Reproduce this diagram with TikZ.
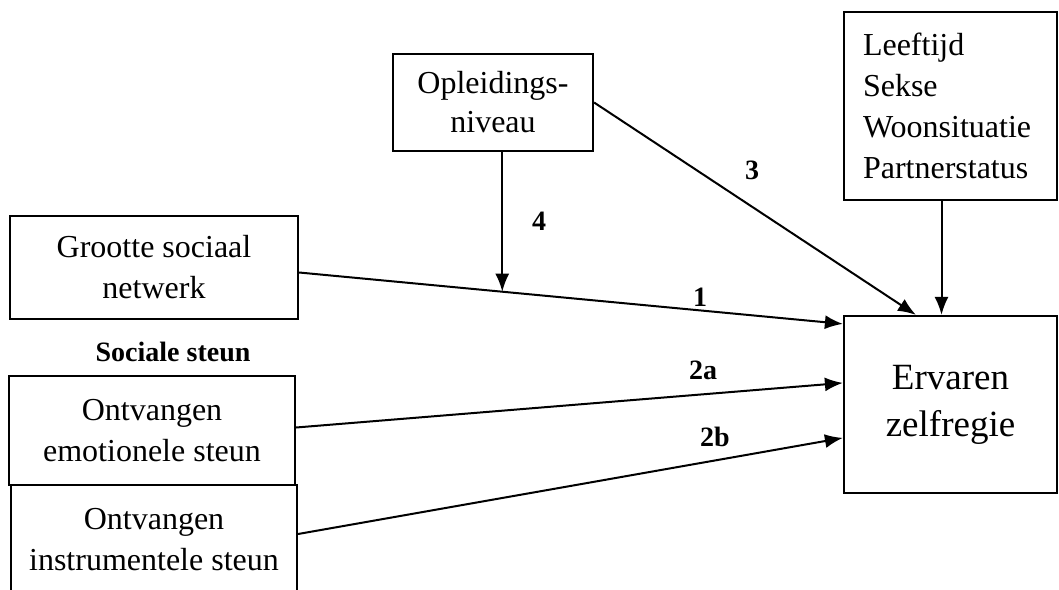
\documentclass[tikz,border=0pt]{standalone}
\usepackage{fontspec}
\setmainfont{Liberation Serif}
\usetikzlibrary{arrows.meta,positioning,calc}

\begin{document}
\begin{tikzpicture}[x=0.5pt, y=-0.5pt, >={Latex[length=9pt,width=7pt]}]
\tikzset{
block/.style    = {draw, line width=1.1pt, shape=rectangle, fill=white, inner sep=0pt, align=center, font=\fontsize{16}{20.5}\selectfont},
lbl/.style      = {font=\bfseries\fontsize{14}{16}\selectfont},
pad/.style      = {->, line width=1pt},
}
    \useasboundingbox (0,0) rectangle (1059,589);

    % Main nodes
    \node [block, minimum width=100pt, minimum height=48.5pt, font=\fontsize{16}{19.5}\selectfont] (opleiding) at (493,102.5) {Opleidings-\\niveau};
    \node [block, align=left, text width=87.5pt, inner xsep=9.5pt, minimum height=94pt] (covariaten) at (950.5,106) {Leeftijd\\Sekse\\Woonsituatie\\Partnerstatus};
    \node [block, minimum width=144pt, minimum height=51.5pt] (netwerk) at (154,267.5) {Grootte sociaal\\netwerk};
    \node [lbl] (steun) at (173,352) {Sociale steun};
    \node [block, minimum width=143pt, minimum height=54.5pt] (emotioneel) at (152,430.5) {Ontvangen\\emotionele steun};
    \node [block, minimum width=143pt, minimum height=55pt] (instrumenteel) at (154,540) {Ontvangen\\instrumentele steun};
    \node [block, minimum width=106.5pt, minimum height=88.5pt, font=\fontsize{18.5}{23.5}\selectfont] (zelfregie) at (950.5,404.5) {Ervaren\\zelfregie};

    % Main edges
    \coordinate (in1) at ([yshift=-4.5pt]zelfregie.north west);
    \draw [pad] ([yshift=-2.5pt]netwerk.east) -- (in1) coordinate[pos=0.3736] (mod);
    \draw [pad] ([yshift=1.5pt]emotioneel.east) -- ([yshift=-34pt]zelfregie.north west);
    \draw [pad] ([yshift=3pt]instrumenteel.east) -- ([yshift=-61.5pt]zelfregie.north west);
    \draw [pad] (opleiding.east) -- ([xshift=36.5pt]zelfregie.north west);
    \draw [pad] ([xshift=-4.5pt]covariaten.south) -- ([xshift=-4.5pt]covariaten.south |- zelfregie.north);
    \draw [pad] (opleiding.south -| mod) -- (mod);

    % Labels
    \node [lbl] (p1)  at (700,297) {1};
    \node [lbl] (p2a) at (703,370) {2a};
    \node [lbl] (p2b) at (715,437) {2b};
    \node [lbl] (p3)  at (752,170) {3};
    \node [lbl] (p4)  at (539,221) {4};

\end{tikzpicture}
\end{document}
